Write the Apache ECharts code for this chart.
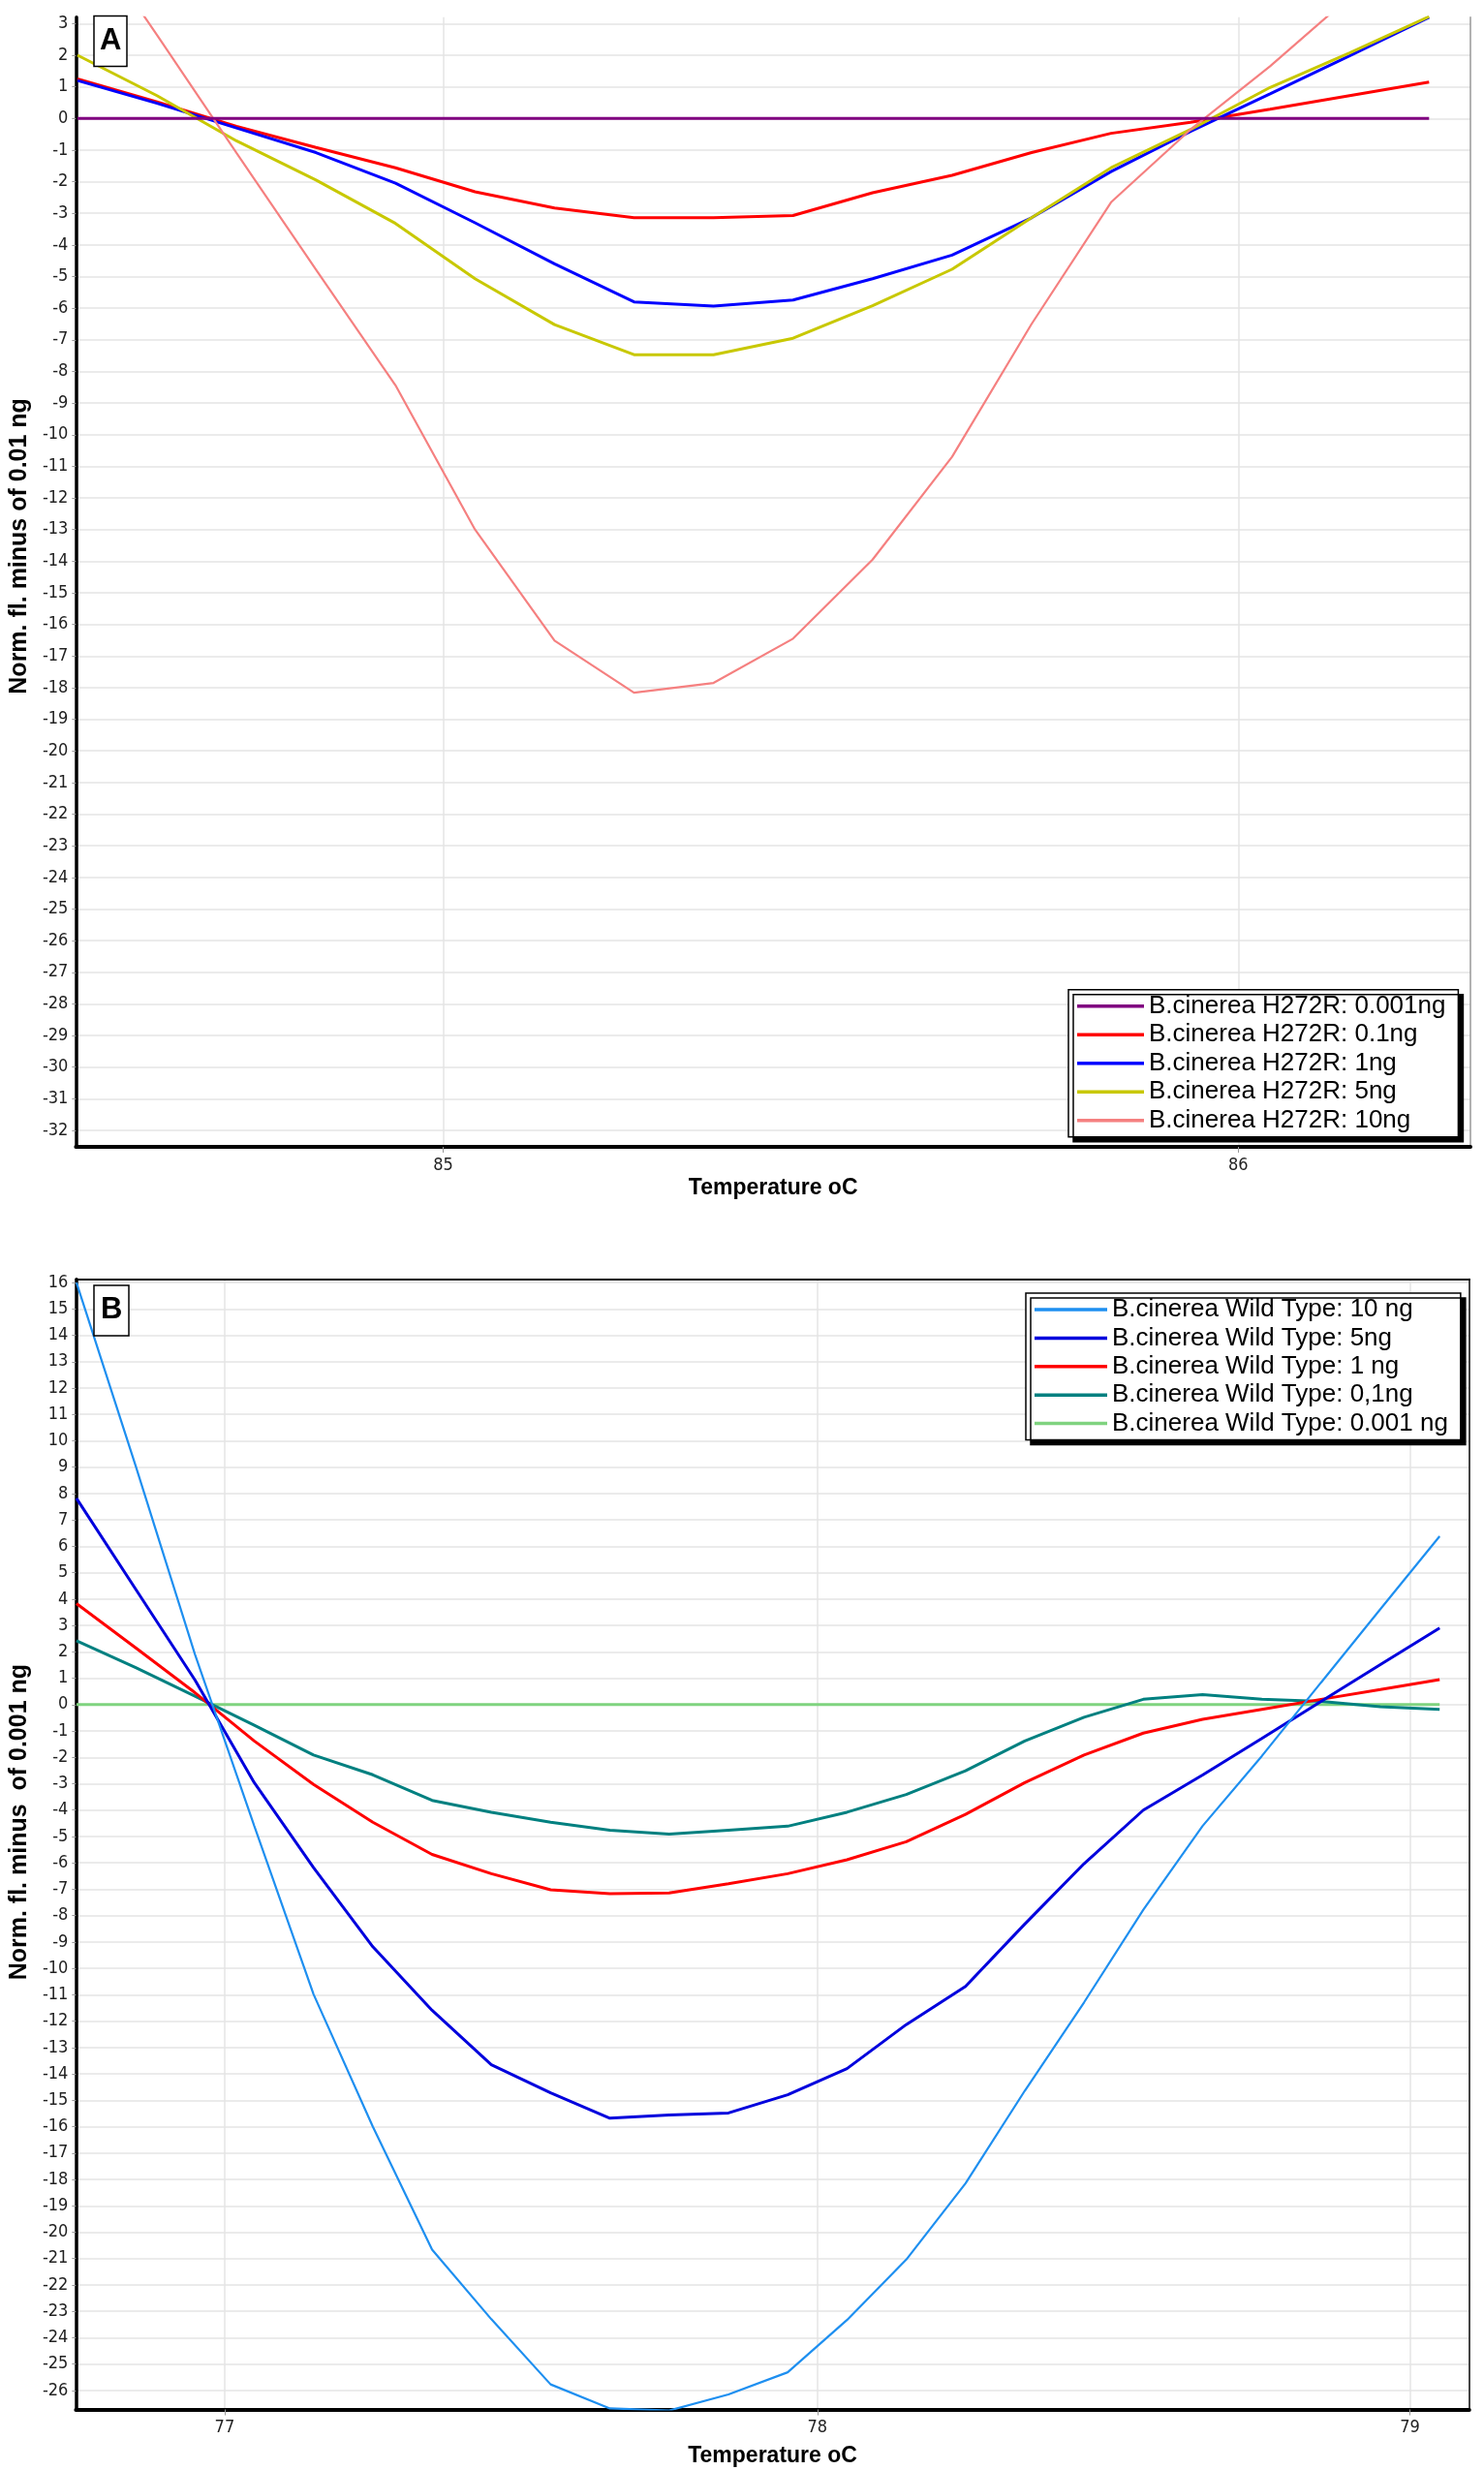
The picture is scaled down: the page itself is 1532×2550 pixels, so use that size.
<!DOCTYPE html>
<html>
<head>
<meta charset="utf-8">
<script src="https://cdn.jsdelivr.net/npm/echarts@6/dist/echarts.min.js"></script>
<style>
html,body{margin:0;padding:0;background:#fff;}
#c{width:1532px;height:2550px;}
</style>
</head>
<body>
<div id="c"></div>
<script>
// ---------- Panel A data ----------
const tempsA = [84.54, 84.64, 84.74, 84.84, 84.94, 85.04, 85.14, 85.24, 85.34, 85.44, 85.54, 85.64, 85.74, 85.84, 85.94, 86.04, 86.14, 86.24];
const a_0001 = [0, 0, 0, 0, 0, 0, 0, 0, 0, 0, 0, 0, 0, 0, 0, 0, 0, 0];
const a_01   = [1.25, 0.52, -0.25, -0.92, -1.56, -2.32, -2.83, -3.14, -3.14, -3.07, -2.35, -1.8, -1.08, -0.47, -0.12, 0.29, 0.72, 1.15];
const a_1    = [1.2, 0.48, -0.3, -1.08, -2.05, -3.3, -4.6, -5.8, -5.93, -5.74, -5.07, -4.32, -3.14, -1.68, -0.41, 0.78, 1.98, 3.2];
const a_5    = [2.0, 0.72, -0.71, -1.95, -3.32, -5.07, -6.52, -7.47, -7.47, -6.95, -5.92, -4.77, -3.14, -1.56, -0.35, 0.98, 2.07, 3.22];
const a_10   = [6.3, 2.64, -1.09, -4.78, -8.44, -13.0, -16.51, -18.16, -17.85, -16.45, -13.95, -10.7, -6.5, -2.65, -0.35, 1.65, 3.84, 5.95];
const xTicksA = [85, 86];
const yTicksA = [-32, -31, -30, -29, -28, -27, -26, -25, -24, -23, -22, -21, -20, -19, -18, -17, -16, -15, -14, -13, -12, -11, -10, -9, -8, -7, -6, -5, -4, -3, -2, -1, 0, 1, 2, 3];
const namesA = ['B.cinerea H272R: 0.001ng', 'B.cinerea H272R: 0.1ng', 'B.cinerea H272R: 1ng', 'B.cinerea H272R: 5ng', 'B.cinerea H272R: 10ng'];

// ---------- Panel B data ----------
const tempsB = [76.75, 76.85, 76.95, 77.05, 77.15, 77.25, 77.35, 77.45, 77.55, 77.65, 77.75, 77.85, 77.95, 78.05, 78.15, 78.25, 78.35, 78.45, 78.55, 78.65, 78.75, 78.85, 78.95, 79.05];
const b_10    = [16.0, 9.04, 1.9, -4.6, -10.98, -16.0, -20.66, -23.3, -25.77, -26.68, -26.76, -26.15, -25.31, -23.33, -21.04, -18.15, -14.64, -11.29, -7.78, -4.6, -1.95, 0.84, 3.62, 6.38];
const b_5     = [7.82, 4.37, 0.93, -2.96, -6.18, -9.18, -11.59, -13.65, -14.72, -15.68, -15.56, -15.48, -14.79, -13.8, -12.13, -10.68, -8.32, -6.03, -4.0, -2.67, -1.28, 0.12, 1.52, 2.9];
const b_1     = [3.83, 2.15, 0.45, -1.38, -3.03, -4.46, -5.68, -6.41, -7.02, -7.17, -7.14, -6.79, -6.41, -5.88, -5.2, -4.16, -2.96, -1.91, -1.08, -0.56, -0.18, 0.2, 0.57, 0.95];
const b_01    = [2.42, 1.4, 0.32, -0.78, -1.91, -2.66, -3.63, -4.08, -4.46, -4.76, -4.91, -4.76, -4.61, -4.08, -3.41, -2.51, -1.38, -0.48, 0.2, 0.38, 0.2, 0.12, -0.08, -0.18];
const b_0001  = [0, 0, 0, 0, 0, 0, 0, 0, 0, 0, 0, 0, 0, 0, 0, 0, 0, 0, 0, 0, 0, 0, 0, 0];
const xTicksB = [77, 78, 79];
const yTicksB = [-26, -25, -24, -23, -22, -21, -20, -19, -18, -17, -16, -15, -14, -13, -12, -11, -10, -9, -8, -7, -6, -5, -4, -3, -2, -1, 0, 1, 2, 3, 4, 5, 6, 7, 8, 9, 10, 11, 12, 13, 14, 15, 16];
const namesB = ['B.cinerea Wild Type: 10 ng', 'B.cinerea Wild Type: 5ng', 'B.cinerea Wild Type: 1 ng', 'B.cinerea Wild Type: 0,1ng', 'B.cinerea Wild Type: 0.001 ng'];

// ---------- helpers ----------
function pairs(xs, ys) { return xs.map((x, i) => [x, ys[i]]); }
const TICKFONT = "'Liberation Sans Narrow', 'DejaVu Sans Condensed', 'Liberation Sans', sans-serif";
const FONT = "'Liberation Sans', Arial, sans-serif";
const GRIDC = '#e4e4e4';

function valueXAxis(grid, min, max, ticks, nameGap) {
  return {
    type: 'value', gridIndex: grid, min: min, max: max, position: 'bottom',
    name: 'Temperature oC', nameLocation: 'middle', nameGap: nameGap,
    nameTextStyle: { fontFamily: FONT, fontWeight: 'bold', fontSize: 23, color: '#000' },
    axisLine: { show: true, onZero: false, lineStyle: { color: '#000', width: 4 } },
    axisTick: { show: true, customValues: ticks, length: 6, lineStyle: { color: '#999', width: 1 } },
    axisLabel: { show: true, customValues: ticks, margin: 10, fontFamily: TICKFONT, fontSize: 18, color: '#222' },
    splitLine: { show: true, lineStyle: { color: GRIDC, width: 1.5 } }
  };
}
function valueYAxis(grid, min, max, ticks, name, nameGap, shift) {
  return {
    type: 'value', gridIndex: grid, min: min, max: max, position: 'left',
    name: name, nameLocation: 'middle', nameGap: nameGap,
    nameTextStyle: { fontFamily: FONT, fontWeight: 'bold', fontSize: 25, color: '#000', padding: [0, 0, 0, shift] },
    axisLine: { show: true, onZero: false, lineStyle: { color: '#000', width: 3.5 } },
    axisTick: { show: true, customValues: ticks, length: 4, lineStyle: { color: '#999', width: 1 } },
    axisLabel: { show: true, customValues: ticks, margin: 8, fontFamily: TICKFONT, fontSize: 18, color: '#222' },
    splitLine: { show: true, lineStyle: { color: GRIDC, width: 1.5 } }
  };
}
function frameAxis(grid, pos, color, width) {
  return {
    type: 'value', gridIndex: grid, position: pos,
    axisLine: { show: true, onZero: false, lineStyle: { color: color, width: width } },
    axisTick: { show: false }, axisLabel: { show: false }, splitLine: { show: false }
  };
}
function lineSeries(name, data, color, width, xi, yi) {
  return {
    type: 'line', name: name, data: data, xAxisIndex: xi, yAxisIndex: yi,
    symbol: 'none', showSymbol: false, smooth: false, clip: true,
    lineStyle: { color: color, width: width }, itemStyle: { color: color },
    emphasis: { disabled: true }
  };
}
function boxLegend(names, left, top, pad, gap, iw, tgap) {
  return {
    data: names.map(n => ({ name: n, icon: 'rect' })), orient: 'vertical', left: left, top: top,
    padding: pad, itemGap: gap, itemWidth: iw, itemHeight: 3.5, itemTextGap: tgap,
    backgroundColor: '#fff', borderColor: '#000', borderWidth: 1.5, borderRadius: 0,
    shadowColor: '#000', shadowBlur: 0, shadowOffsetX: 5, shadowOffsetY: 5,
    selectedMode: false,
    textStyle: { fontFamily: FONT, fontSize: 26, color: '#000' }
  };
}
function panelTitle(text, left, top, pad) {
  return {
    text: text, left: left, top: top, padding: pad,
    backgroundColor: '#fff', borderColor: '#000', borderWidth: 1.5,
    textStyle: { fontFamily: FONT, fontWeight: 'bold', fontSize: 31, color: '#000' }
  };
}

const option = {
  animation: false,
  backgroundColor: '#fff',
  title: [
    panelTitle('A', 97, 16.6, [10, 6, 11, 6]),
    panelTitle('B', 97, 1327, [10, 7, 11, 7])
  ],
  legend: [
    boxLegend(namesA, 1103, 1021.7, [4, 13, 4, 9], 3.5, 69, 5),
    boxLegend(namesB, 1059, 1335, [4, 13, 4, 9], 3.4, 75, 7)
  ],
  grid: [
    { left: 66.4, top: 17.8, width: 1451.6, height: 1166.2, containLabel: false },
    { left: 71.3, top: 1320.8, width: 1445.5, height: 1166.7, containLabel: false }
  ],
  xAxis: [
    valueXAxis(0, 84.538, 86.292, xTicksA, 31),
    valueXAxis(1, 76.749, 79.1, xTicksB, 37),
    frameAxis(1, 'top', '#000', 2)
  ],
  yAxis: [
    valueYAxis(0, -32.52, 3.2, yTicksA, 'Norm. fl. minus of 0.01 ng', 38, 74),
    valueYAxis(1, -26.72, 16.12, yTicksB, 'Norm. fl. minus  of 0.001 ng', 43, 46),
    frameAxis(0, 'right', '#999', 1.5),
    frameAxis(1, 'right', '#444', 2)
  ],
  series: [
    lineSeries(namesA[1], pairs(tempsA, a_01), '#ff0000', 3, 0, 0),
    lineSeries(namesA[2], pairs(tempsA, a_1), '#0000ff', 3, 0, 0),
    lineSeries(namesA[3], pairs(tempsA, a_5), '#c8c800', 3, 0, 0),
    lineSeries(namesA[4], pairs(tempsA, a_10), '#f58080', 2.2, 0, 0),
    lineSeries(namesA[0], pairs(tempsA, a_0001), '#800080', 3, 0, 0),
    lineSeries(namesB[4], pairs(tempsB, b_0001), '#7fd37f', 3, 1, 1),
    lineSeries(namesB[3], pairs(tempsB, b_01), '#008080', 3, 1, 1),
    lineSeries(namesB[2], pairs(tempsB, b_1), '#ff0000', 3, 1, 1),
    lineSeries(namesB[1], pairs(tempsB, b_5), '#0000dd', 3, 1, 1),
    lineSeries(namesB[0], pairs(tempsB, b_10), '#1e8ff0', 2.2, 1, 1)
  ]
};

const chart = echarts.init(document.getElementById('c'), null, { renderer: 'canvas', width: 1532, height: 2550 });
chart.setOption(option);
</script>
</body>
</html>
